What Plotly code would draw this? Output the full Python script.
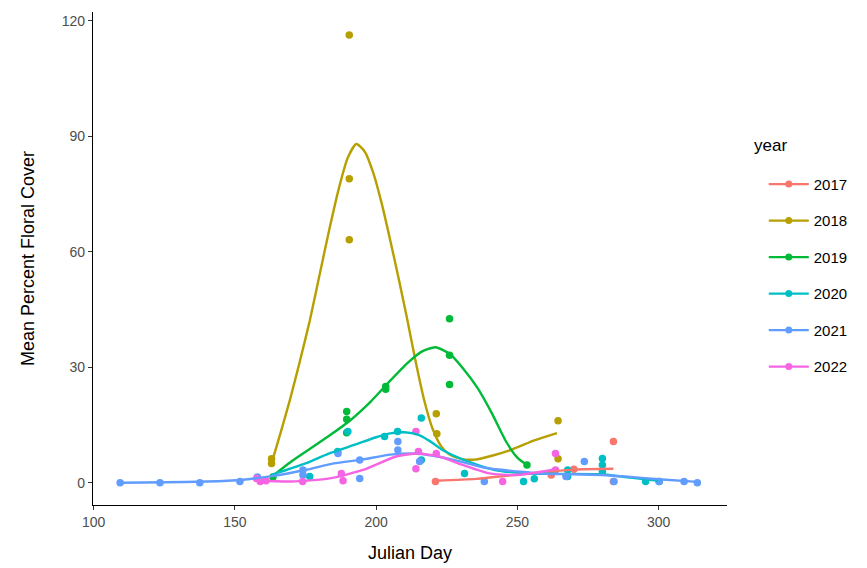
import plotly.graph_objects as go

years = ["2017", "2018", "2019", "2020", "2021", "2022"]
colors = {"2017": "#F8766D", "2018": "#B79F00", "2019": "#00BA38",
          "2020": "#00BFC4", "2021": "#619CFF", "2022": "#F564E3"}

# observed points (Julian day, mean percent floral cover)
pts_day = {
    "2017": [221, 262, 270, 284, 284],
    "2018": [163, 163, 190.5, 190.5, 190.5, 221.3, 221.5, 264.4, 264.4],
    "2019": [163.5, 189.6, 189.6, 189.6, 203.4, 203.4, 226, 226, 226, 253.4],
    "2020": [176.5, 186.4, 190, 203, 207.6, 216, 216, 231.3, 252.2, 256, 267.8, 267.8,
             280.1, 280.1, 280.1, 295.4, 300.2],
    "2021": [109.4, 123.5, 137.6, 151.8, 158, 174.1, 174.1, 186.5, 194.2, 194.2, 207.7,
             207.7, 215.4, 238.3, 267.2, 273.7, 284.2, 300.2, 309, 313.7],
    "2022": [157.7, 159, 161, 174, 187.7, 188.3, 214.1, 214.1, 215, 221.3, 244.8,
             263.5, 263.5],
}
pts_val = {
    "2017": [0.3, 2.0, 3.5, 10.7, 0.3],
    "2018": [6.2, 5.0, 116.3, 79.0, 63.1, 17.9, 12.7, 16.1, 6.2],
    "2019": [1.5, 18.5, 16.5, 13.0, 25.0, 24.3, 42.6, 33.1, 25.5, 4.6],
    "2020": [1.6, 8.1, 13.3, 12.0, 13.3, 16.8, 5.9, 2.4, 0.3, 1.0, 3.3, 1.6,
             6.3, 4.6, 2.9, 0.3, 0.3],
    "2021": [0.0, 0.0, 0.0, 0.3, 1.5, 3.3, 2.0, 7.6, 5.9, 1.1, 10.7,
             8.5, 5.5, 0.3, 1.6, 5.5, 0.3, 0.3, 0.3, 0.0],
    "2022": [1.1, 0.3, 0.5, 0.3, 2.4, 0.5, 13.3, 3.6, 8.1, 7.6, 0.3,
             7.6, 3.3],
}

# smoothed (loess) curves
fit_day = {
    "2017": [221.3, 235.5, 254, 270, 284],
    "2018": [163, 166, 169.5, 173, 176.5, 180, 183.5, 187, 190, 193,
             196, 199, 202, 205, 208, 211, 214, 217, 220, 223, 226, 230,
             235, 241, 248, 256, 264],
    "2019": [163, 170, 177, 184, 191, 198, 205, 211, 216, 221, 226, 231, 236, 241,
             246, 250, 253.4],
    "2020": [163, 175, 183, 193, 200, 205, 210, 215, 219, 224, 231, 242, 254, 265, 280,
             290, 300],
    "2021": [110, 125, 140, 152, 163, 175, 185, 195, 205, 215, 227, 239, 250, 260, 270,
             280, 290, 300, 313.7],
    "2022": [157.7, 170, 183.6, 195.3, 207.1, 214.8, 222.4, 230.7, 240.1, 249.5, 258.9,
             263.7],
}
fit_val = {
    "2017": [0.5, 1.0, 2.4, 3.4, 3.6],
    "2018": [5, 12.5, 21.5, 31.5, 42, 54, 66, 77, 84.5, 88,
             86, 80.5, 72.5, 63, 53, 42.5, 31.5, 21.5, 14, 9.5, 7.3, 6.2,
             6, 7, 8.6, 11, 12.9],
    "2019": [1.5, 5.5, 9, 12.5, 16.3, 21, 26.5, 31, 34, 35.2, 33.5, 29.5, 24.5, 18,
             10.7, 6.5, 4.6],
    "2020": [2, 5, 7.5, 10, 11.8, 12.8, 13.1, 12.4, 10.8, 8.3, 5.9, 3.3, 2.4, 2.3, 2.2,
             1.3, 0.5],
    "2021": [0, 0.1, 0.3, 0.7, 1.7, 3.3, 5, 6, 7.3, 7.5, 6, 3.8, 2.9, 2.3, 2.2,
             2.0, 1.5, 0.9, 0.2],
    "2022": [0.5, 0.3, 1.1, 3.3, 6.8, 7.6, 6.8, 4.6, 2.4, 2.0, 2.9, 3.6],
}

fig = go.Figure()
for y in years:
    c = colors[y]
    fig.add_trace(go.Scatter(x=pts_day[y], y=pts_val[y], mode="markers",
                             marker=dict(color=c, size=7.5), showlegend=False,
                             hoverinfo="x+y"))
for y in years:
    c = colors[y]
    fig.add_trace(go.Scatter(x=fit_day[y], y=fit_val[y], mode="lines",
                             line=dict(color=c, width=2.4, shape="spline", smoothing=0.6),
                             showlegend=False))
for y in years:
    fig.add_trace(go.Scatter(x=[None], y=[None], mode="lines+markers", name=y,
                             legendgroup=y,
                             line=dict(color=colors[y], width=2.3),
                             marker=dict(color=colors[y], size=7)))

axis_common = dict(showline=True, linecolor="black", linewidth=1.2, ticks="outside",
                   ticklen=4, tickcolor="#333333", tickwidth=1.1, showgrid=False,
                   zeroline=False, tickfont=dict(size=14, color="#4D4D4D"))

fig.update_layout(
    width=867, height=568,
    margin=dict(l=85, r=148, t=4, b=71),
    plot_bgcolor="white", paper_bgcolor="white",
    font=dict(family="Arial, Liberation Sans, sans-serif", color="black"),
    xaxis=dict(range=[99.8, 324.2], tickvals=[100, 150, 200, 250, 300],
               title=dict(text="Julian Day", font=dict(size=18), standoff=17),
               **axis_common),
    yaxis=dict(range=[-5.8, 122.3], tickvals=[0, 30, 60, 90, 120],
               title=dict(text="Mean Percent Floral Cover", font=dict(size=18), standoff=22),
               **axis_common),
    legend=dict(x=1.058, xanchor="left", y=0.684, yanchor="top",
                font=dict(size=15), tracegroupgap=14, itemwidth=40),
    annotations=[dict(text="year", xref="paper", yref="paper", x=1.039, y=0.730,
                      xanchor="left", yanchor="middle", showarrow=False,
                      font=dict(size=17, color="black"))],
)

fig.write_html("out.html")
